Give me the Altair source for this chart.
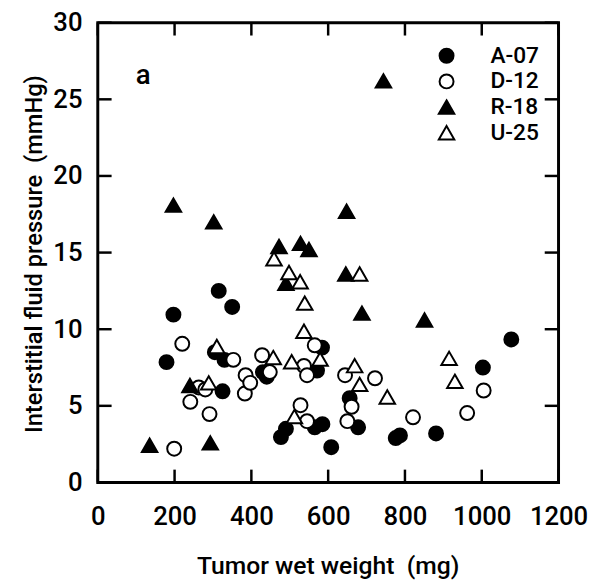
import altair as alt
import pandas as pd

series_names = ["A-07", "D-12", "R-18", "U-25"]

a07_x = [179, 197, 305, 315, 330, 325, 350, 430, 440, 477, 490, 565, 585, 571, 584, 608, 656, 678, 776, 787, 881, 1003, 1077]
a07_y = [7.85, 10.95, 8.5, 12.5, 8.0, 5.95, 11.45, 7.2, 6.9, 2.96, 3.5, 3.6, 3.8, 7.3, 8.8, 2.3, 5.5, 3.6, 2.9, 3.07, 3.2, 7.5, 9.33]

d12_x = [199, 220, 241, 263, 280, 291, 353, 383, 385, 397, 428, 448, 528, 537, 545, 545, 565, 644, 650, 661, 722, 821, 962, 1005]
d12_y = [2.2, 9.05, 5.26, 6.2, 6.07, 4.46, 8.0, 5.8, 7.0, 6.5, 8.3, 7.2, 5.04, 7.6, 7.0, 4.0, 8.95, 7.0, 4.0, 4.94, 6.8, 4.25, 4.53, 6.0]

r18_x = [135, 197, 240, 293, 302, 472, 490, 528, 550, 646, 648, 688, 744, 851]
r18_y = [2.43, 18.1, 6.33, 2.58, 17.0, 15.4, 13.0, 15.6, 15.2, 13.6, 17.7, 11.05, 26.2, 10.6]

u25_x = [289, 310, 457, 459, 498, 505, 512, 527, 537, 539, 579, 669, 682, 682, 754, 915, 930]
u25_y = [6.5, 8.87, 8.15, 14.6, 13.7, 7.88, 4.3, 13.1, 9.87, 11.7, 8.05, 7.62, 13.6, 6.4, 5.58, 8.1, 6.6]

x_ticks = [0, 200, 400, 600, 800, 1000, 1200]
y_ticks = [0, 5, 10, 15, 20, 25, 30]

panel_label = "a"
panel_label_x = [118]
panel_label_y = [26.0]

rows = []
for name, xs, ys in [("A-07", a07_x, a07_y), ("D-12", d12_x, d12_y),
                     ("R-18", r18_x, r18_y), ("U-25", u25_x, u25_y)]:
    for xv, yv in zip(xs, ys):
        rows.append({"series": name, "weight": xv, "pressure": yv})
df = pd.DataFrame(rows)

FONT = "Roboto"
FW = 500
W, H = 467, 466
TRI = "M0,-0.96L1.11,0.96L-1.11,0.96Z"

xscale = alt.Scale(domain=[0, 1200], nice=False, zero=False)
yscale = alt.Scale(domain=[0, 30], nice=False, zero=False)

x_axis = alt.Axis(values=x_ticks, format="d", tickSize=0, domain=False, grid=False,
                  labelFontSize=26, labelFont=FONT, labelFontWeight=FW, labelColor="black",
                  labelPadding=22, titleFontSize=25, titleFont=FONT,
                  titleFontWeight=FW, titleColor="black",
                  titleX=233, titleY=84, titleBaseline="middle",
                  labelFlush=False)
y_axis = alt.Axis(values=y_ticks, tickSize=0, domain=False, grid=False,
                  labelFontSize=26, labelFont=FONT, labelFontWeight=FW, labelColor="black",
                  labelPadding=16, titleFontSize=24, titleFont=FONT,
                  titleFontWeight=FW, titleColor="black",
                  titleX=-64, titleY=234, titleBaseline="middle", titleAngle=-90,
                  labelFlush=False)
X_TITLE = "Tumor wet weight\u00a0 (mg)"
Y_TITLE = "Interstitial fluid pressure\u00a0 (mmHg)"


def leg():
    return alt.Legend(title=None, orient="none", legendX=342, legendY=22,
                      labelFontSize=23, labelFont=FONT, labelFontWeight=FW,
                      labelColor="black",
                      labelOffset=33, rowPadding=2, symbolSize=200,
                      symbolStrokeWidth=2, padding=0)


points = alt.Chart(df).mark_point(
    filled=True, strokeWidth=2, opacity=1, size=200
).encode(
    x=alt.X("weight:Q", scale=xscale, title=X_TITLE, axis=x_axis),
    y=alt.Y("pressure:Q", scale=yscale, title=Y_TITLE, axis=y_axis),
    fill=alt.Fill("series:N", scale=alt.Scale(domain=series_names,
                                              range=["black", "white", "black", "white"]),
                  legend=leg()),
    stroke=alt.Stroke("series:N", scale=alt.Scale(domain=series_names,
                                                  range=["black", "black", "black", "black"]),
                      legend=leg()),
    shape=alt.Shape("series:N", scale=alt.Scale(domain=series_names,
                                                range=["circle", "circle", TRI, TRI]),
                    legend=leg()),
)

xt = pd.DataFrame({"weight": x_ticks})
yt = pd.DataFrame({"pressure": y_ticks})

tick_style = dict(color="black", strokeWidth=2.5)
bottom_ticks = alt.Chart(xt).mark_rule(**tick_style).encode(
    x=alt.X("weight:Q", scale=xscale, title=X_TITLE), y=alt.value(H), y2=alt.value(H - 13))
top_ticks = alt.Chart(xt).mark_rule(**tick_style).encode(
    x=alt.X("weight:Q", scale=xscale, title=X_TITLE), y=alt.value(0), y2=alt.value(13))
left_ticks = alt.Chart(yt).mark_rule(**tick_style).encode(
    y=alt.Y("pressure:Q", scale=yscale, title=Y_TITLE), x=alt.value(0), x2=alt.value(14))
right_ticks = alt.Chart(yt).mark_rule(**tick_style).encode(
    y=alt.Y("pressure:Q", scale=yscale, title=Y_TITLE), x=alt.value(W), x2=alt.value(W - 14))

lab = pd.DataFrame({"weight": panel_label_x, "pressure": panel_label_y, "t": [panel_label]})
label = alt.Chart(lab).mark_text(font=FONT, fontSize=28, fontWeight=FW, color="black",
                                 align="center", baseline="alphabetic").encode(
    x=alt.X("weight:Q", scale=xscale, title=X_TITLE),
    y=alt.Y("pressure:Q", scale=yscale, title=Y_TITLE),
    text="t:N")

chart = alt.layer(points, bottom_ticks, top_ticks, left_ticks, right_ticks, label).properties(
    width=W, height=H,
    background="white",
    autosize=alt.AutoSizeParams(type="none"),
    padding={"left": 91, "top": 11, "right": 40, "bottom": 97},
).configure_view(stroke="black", strokeWidth=3)

chart.save("out.html", embed_options={"renderer": "svg", "actions": False})
